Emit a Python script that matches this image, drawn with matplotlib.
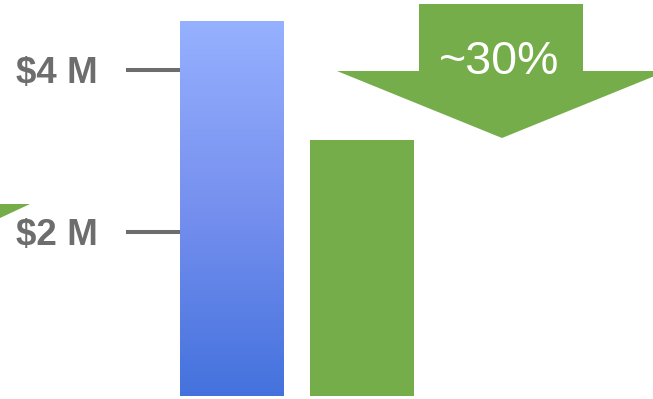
import numpy as np
import matplotlib
matplotlib.use("Agg")
import matplotlib.pyplot as plt
from matplotlib.colors import LinearSegmentedColormap
from matplotlib.patches import Polygon

# data (millions of dollars)
categories = ["before", "after"]
values = [4.63, 3.17]
tick_values = [2, 4]
tick_labels = ["\\$2 M", "\\$4 M"]
change_label = "~30%"

W, H = 653, 399
GREEN = "#75ad4a"
GRAY = "#6d6d6d"

plt.rcParams['font.family'] = ['Liberation Sans', 'DejaVu Sans']

fig = plt.figure(figsize=(W / 100, H / 100), dpi=100)
ax = fig.add_axes([180 / W, 0, 1 - 180 / W, 1])

x = np.arange(len(categories))
bars = ax.bar(x, values, width=0.8, bottom=-0.03, color=["none", GREEN], zorder=2)

# blue gradient for the first bar
cmap = LinearSegmentedColormap.from_list("bl", ["#4472dd", "#7690ef", "#96b1fe"])
b = bars[0]
grad = np.linspace(0, 1, 256).reshape(-1, 1)
im = ax.imshow(grad, cmap=cmap, origin="lower", aspect="auto",
               extent=[b.get_x(), b.get_x() + b.get_width(), b.get_y(), b.get_y() + b.get_height()],
               zorder=1)
im.set_clip_path(b)

ax.set_xlim(-0.4, (W - 180) / 130 - 0.4)
ax.set_ylim(-5 / 81, 394 / 81)
ax.set_yticks(tick_values)
ax.set_yticklabels(tick_labels, fontsize=26.5, fontweight="bold")
ax.tick_params(axis="y", length=39, width=2.9, color=GRAY, labelcolor=GRAY, pad=20)
ax.set_xticks([])
for s in ax.spines.values():
    s.set_visible(False)

def fpts(pts):
    return [(px / W, 1 - py / H) for px, py in pts]

# down arrow
arrow = [(419, 4), (583, 4), (583, 71), (667, 71), (502, 138), (337, 71), (419, 71)]
fig.patches.append(Polygon(fpts(arrow), closed=True, facecolor=GREEN, edgecolor="none",
                           transform=fig.transFigure, figure=fig))
# partial arrow on the left edge
tri = [(-30, 204), (30, 204), (-30, 232)]
fig.patches.append(Polygon(fpts(tri), closed=True, facecolor=GREEN, edgecolor="none",
                           transform=fig.transFigure, figure=fig))

fig.text(499 / W, 1 - 62 / H, change_label, color="white", fontsize=33.5,
         ha="center", va="center")

fig.savefig("out.png", dpi=100)
